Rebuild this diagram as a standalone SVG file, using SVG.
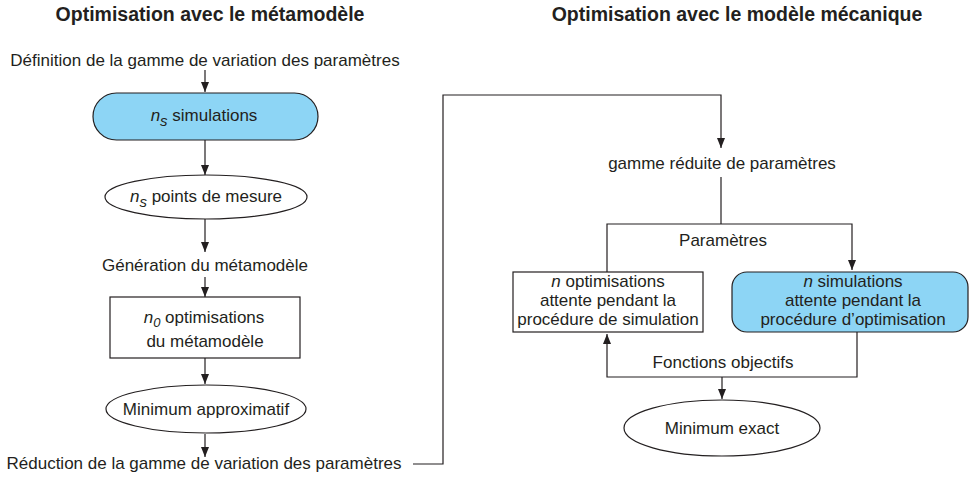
<svg xmlns="http://www.w3.org/2000/svg" width="969" height="488" viewBox="0 0 969 488">
<style>
text{font-family:"Liberation Sans",Arial,sans-serif;fill:#231f20;font-size:17px}
.t{font-weight:bold;font-size:19.5px}
.c{text-anchor:middle}
.i{font-style:italic}
.ln{fill:none;stroke:#231f20;stroke-width:1.2}
.bx{fill:#fff;stroke:#231f20;stroke-width:1.2}
.bl{fill:#8dd5f5;stroke:#231f20;stroke-width:1.2}
</style>
<defs>
<marker id="ar" markerUnits="userSpaceOnUse" markerWidth="10" markerHeight="10" refX="10" refY="4" orient="auto">
<path d="M0,0 L10,4 L0,8 z" fill="#231f20"/>
</marker>
</defs>
<text class="t c" x="210" y="21">Optimisation avec le métamodèle</text>
<text class="t c" x="737" y="21">Optimisation avec le modèle mécanique</text>
<g id="connectors">
<path class="ln" d="M205,70 V92" marker-end="url(#ar)"/>
<path class="ln" d="M205,140 V175" marker-end="url(#ar)"/>
<path class="ln" d="M205,219 V252" marker-end="url(#ar)"/>
<path class="ln" d="M205,277 V297" marker-end="url(#ar)"/>
<path class="ln" d="M205,358 V384" marker-end="url(#ar)"/>
<path class="ln" d="M205,434 V457" marker-end="url(#ar)"/>
<path class="ln" d="M413,464 H443 V95 H721 V148" marker-end="url(#ar)"/>
<path class="ln" d="M721,177 V224"/>
<path class="ln" d="M607,272 V224 H852 V270" marker-end="url(#ar)"/>
<path class="ln" d="M857,332 V377 H607 V334" marker-end="url(#ar)"/>
<path class="ln" d="M722,377 V399" marker-end="url(#ar)"/>
</g>
<g id="n1"><text class="c" x="205" y="66">Définition de la gamme de variation des paramètres</text></g>
<g id="n2"><rect class="bl" x="93" y="93" width="225" height="47" rx="23.5"/>
<text class="c" x="204" y="121"><tspan class="i">n</tspan><tspan class="i" font-size="15" dy="5">s</tspan><tspan dy="-5"> simulations</tspan></text></g>
<g id="n3"><ellipse class="bx" cx="206" cy="197" rx="101" ry="22"/>
<text class="c" x="206" y="202"><tspan class="i">n</tspan><tspan class="i" font-size="15" dy="5">s</tspan><tspan dy="-5"> points de mesure</tspan></text></g>
<g id="n4"><text class="c" x="205" y="271">Génération du métamodèle</text></g>
<g id="n5"><rect class="bx" x="110" y="297" width="190" height="61"/>
<text class="c" x="204" y="323"><tspan class="i">n</tspan><tspan class="i" font-size="13" dy="4">0</tspan><tspan dy="-4"> optimisations</tspan></text>
<text class="c" x="205" y="347">du métamodèle</text></g>
<g id="n6"><ellipse class="bx" cx="206" cy="409" rx="100" ry="24"/>
<text class="c" x="206" y="415">Minimum approximatif</text></g>
<g id="n7"><text class="c" x="204" y="469">Réduction de la gamme de variation des paramètres</text></g>
<g id="n8"><text class="c" x="722" y="169">gamme réduite de paramètres</text></g>
<g id="n9"><text class="c" x="723" y="246">Paramètres</text></g>
<g id="n10"><rect class="bx" x="513" y="272" width="190" height="60"/>
<text class="c" x="608" y="287"><tspan class="i">n</tspan> optimisations</text>
<text class="c" x="608" y="306">attente pendant la</text>
<text class="c" x="608" y="325">procédure de simulation</text></g>
<g id="n11"><rect class="bl" x="732" y="272" width="236" height="60" rx="15"/>
<text class="c" x="853" y="287"><tspan class="i">n</tspan> simulations</text>
<text class="c" x="853" y="306">attente pendant la</text>
<text class="c" x="853" y="325">procédure d’optimisation</text></g>
<g id="n12"><text class="c" x="723" y="368">Fonctions objectifs</text></g>
<g id="n13"><ellipse class="bx" cx="722" cy="428" rx="98" ry="28"/>
<text class="c" x="722" y="434">Minimum exact</text></g>
</svg>
